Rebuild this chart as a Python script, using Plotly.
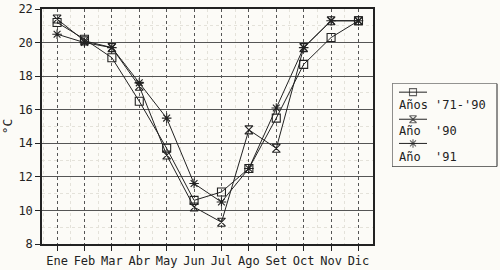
import plotly.graph_objects as go

months = ["Ene", "Feb", "Mar", "Abr", "May", "Jun", "Jul", "Ago", "Set", "Oct", "Nov", "Dic"]
y_7190 = [21.2, 20.2, 19.1, 16.5, 13.7, 10.6, 11.1, 12.5, 15.5, 18.7, 20.3, 21.3]
y_90 = [21.4, 20.1, 19.7, 17.4, 13.3, 10.2, 9.3, 14.8, 13.7, 19.7, 21.3, 21.3]
y_91 = [20.5, 20.0, 19.7, 17.6, 15.5, 11.6, 10.5, 12.5, 16.1, 19.7, 21.3, 21.3]
y_ticks = [8, 10, 12, 14, 16, 18, 20, 22]

series_names = ["Años&nbsp;'71-'90", "Año&nbsp;&nbsp;'90", "Año&nbsp;&nbsp;'91"]
series_symbols = ["square-open", "hourglass-open", "asterisk-open"]
series_values = [y_7190, y_90, y_91]

FONT = "DejaVu Sans Mono"
INK = "#222222"
BG = "#fcfbf7"

fig = go.Figure()
xs = list(range(len(months)))
for name, sym, vals in zip(series_names, series_symbols, series_values):
    fig.add_trace(go.Scatter(
        x=xs, y=vals, mode="lines+markers", name=name, showlegend=False,
        line=dict(color=INK, width=1),
        marker=dict(symbol=sym, size=8, color=INK, line=dict(color=INK, width=1.1)),
        xaxis="x", yaxis="y",
    ))

W, H = 500, 270
L, R, T, B = 42, 2, 6, 21
pw = W - L - R
ph = H - T - B

def px_x(p):
    return (p - L) / pw

def px_y(p):
    return (H - B - p) / ph

# custom legend box (samples drawn above the text, like the original)
LX0, LX1, LY0, LY1 = 392, 498, 83, 169
leg_sample_y = [92, 120, 145]
leg_text_y = [105, 132, 159]
for name, sym, sy, ty in zip(series_names, series_symbols, leg_sample_y, leg_text_y):
    fig.add_trace(go.Scatter(
        x=[399, 413, 427], y=[sy, sy, sy], mode="lines+markers", showlegend=False,
        line=dict(color=INK, width=1),
        marker=dict(symbol=sym, size=[0, 7, 0], color=INK, line=dict(color=INK, width=1.1)),
        xaxis="x2", yaxis="y2", hoverinfo="skip", cliponaxis=False,
    ))
    fig.add_annotation(x=397, y=ty, xref="x2", yref="y2", text=name, showarrow=False,
                       xanchor="left", yanchor="middle",
                       font=dict(family=FONT, size=12, color=INK))

fig.add_shape(type="rect", xref="x2", yref="y2", x0=LX0, x1=LX1 - 1, y0=LY0, y1=LY1,
              line=dict(color=INK, width=1))

fig.update_layout(
    width=W, height=H,
    margin=dict(l=L, r=R, t=T, b=B, pad=0),
    paper_bgcolor=BG, plot_bgcolor=BG,
    font=dict(family=FONT, size=12, color=INK),
    xaxis=dict(
        domain=[0, px_x(373)], range=[-0.55, 11.53],
        tickvals=xs, ticktext=months, ticks="outside", ticklen=5, tickcolor=INK,
        showline=True, linecolor=INK, linewidth=1.5, mirror=True,
        showgrid=True, gridcolor="#555555", griddash="dot", gridwidth=1,
        minor=dict(tickvals=[i + 0.5 for i in range(-1, 12)], showgrid=True,
                   gridcolor="#e4e2da", griddash="dot", gridwidth=1, ticks=""),
        zeroline=False, tickfont=dict(size=12),
    ),
    yaxis=dict(
        domain=[0, 1], range=[8, 22], tickvals=y_ticks,
        ticks="outside", ticklen=5, tickcolor=INK,
        showline=True, linecolor=INK, linewidth=1.5, mirror=True,
        showgrid=True, gridcolor="#555555", gridwidth=1,
        minor=dict(dtick=1, showgrid=True, gridcolor="#e4e2da", griddash="dot", ticks=""),
        zeroline=False, tickfont=dict(size=12), ticklabeloverflow="allow",
        title=dict(text="°C", standoff=6, font=dict(size=13)),
    ),
    xaxis2=dict(domain=[px_x(LX0), 1.0], range=[LX0, LX1], visible=False, anchor="y2",
                fixedrange=True),
    yaxis2=dict(domain=[px_y(LY1), px_y(LY0)], range=[LY1, LY0], visible=False, anchor="x2",
                fixedrange=True),
)

fig.write_html("out.html")
